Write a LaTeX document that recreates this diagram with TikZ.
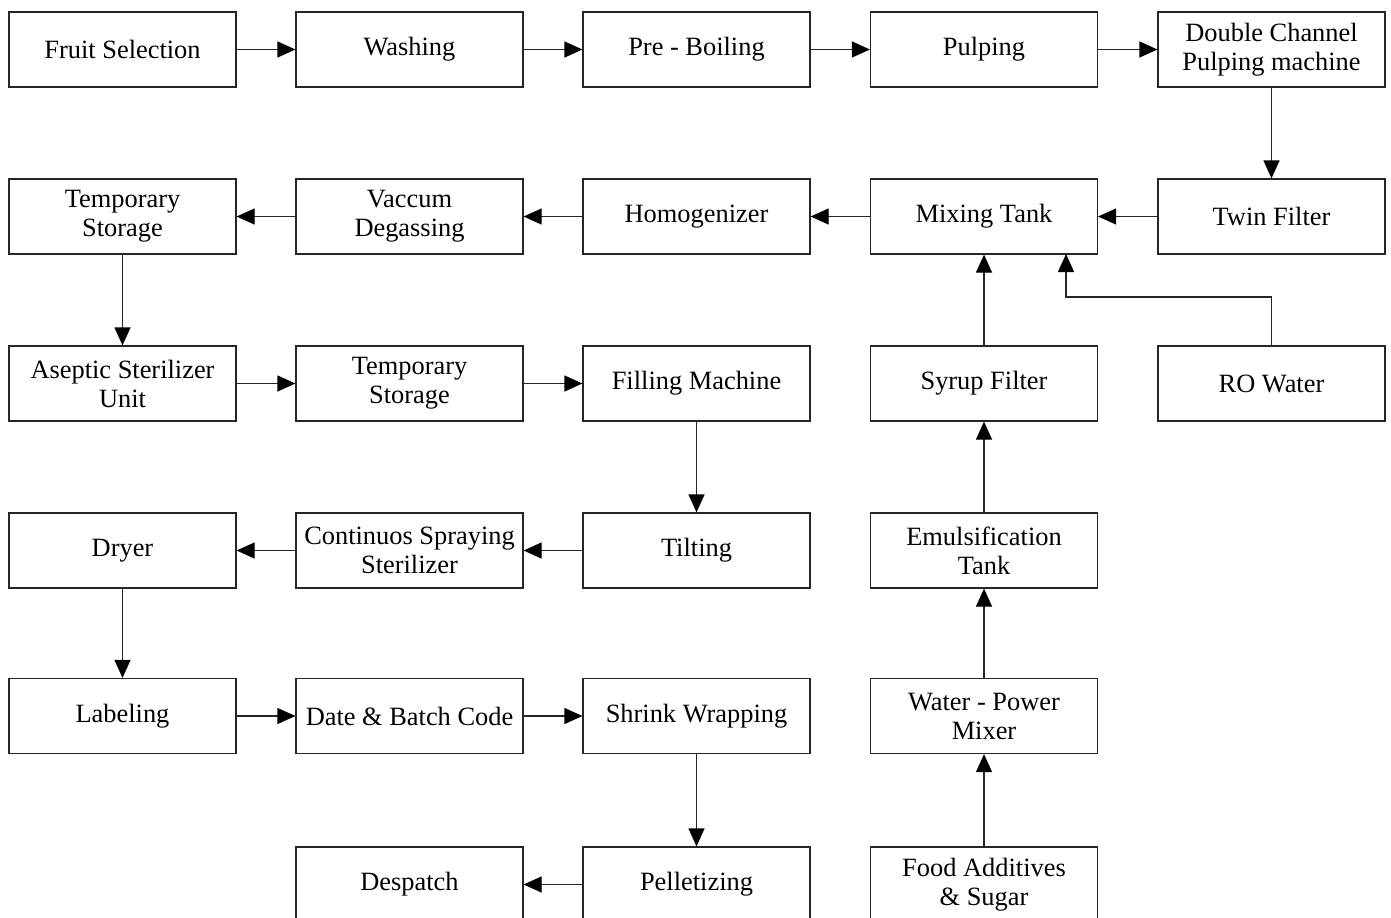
\documentclass[tikz,border=0pt]{standalone}
\usepackage{fontspec}
\setmainfont{Liberation Serif}
\usetikzlibrary{arrows.meta}
\begin{document}
\begin{tikzpicture}[x=0.75pt,y=-0.75pt,
  box/.style={draw=black!85,line width=0.9pt,minimum width=170.25pt,minimum height=56.25pt,inner sep=0pt,align=center,font=\fontsize{19.8}{21.75}\selectfont},
  flow/.style={draw=black!85,line width=0.9pt,-{Triangle[length=13.5pt,width=12pt,fill=black,color=black]}}]
\useasboundingbox (0,0) rectangle (1391,917);
\clip (0,0) rectangle (1391,917);
\node[box] (fs) at (122.5,49.5) {Fruit Selection};
\node[box] (wa) at (409.5,49.5) {Washing};
\node[box] (pb) at (696.5,49.5) {Pre - Boiling};
\node[box] (pu) at (984,49.5) {Pulping};
\node[box] (dc) at (1271.5,49.5) {Double Channel\\Pulping machine};
\node[box] (ts1) at (122.5,216.5) {Temporary\\Storage};
\node[box] (vd) at (409.5,216.5) {Vaccum\\Degassing};
\node[box] (ho) at (696.5,216.5) {Homogenizer};
\node[box] (mt) at (984,216.5) {Mixing Tank};
\node[box] (tf) at (1271.5,216.5) {Twin Filter};
\node[box] (as) at (122.5,383.5) {Aseptic Sterilizer\\Unit};
\node[box] (ts2) at (409.5,383.5) {Temporary\\Storage};
\node[box] (fm) at (696.5,383.5) {Filling Machine};
\node[box] (sf) at (984,383.5) {Syrup Filter};
\node[box] (ro) at (1271.5,383.5) {RO Water};
\node[box] (dr) at (122.5,550.5) {Dryer};
\node[box] (cs) at (409.5,550.5) {Continuos Spraying\\Sterilizer};
\node[box] (ti) at (696.5,550.5) {Tilting};
\node[box] (et) at (984,550.5) {Emulsification\\Tank};
\node[box] (la) at (122.5,716) {Labeling};
\node[box] (db) at (409.5,716) {Date \& Batch Code};
\node[box] (sw) at (696.5,716) {Shrink Wrapping};
\node[box] (wp) at (984,716) {Water - Power\\Mixer};
\node[box] (de) at (409.5,884.5) {Despatch};
\node[box] (pe) at (696.5,884.5) {Pelletizing};
\node[box] (fa) at (984,884.5) {Food Additives\\\& Sugar};
\coordinate (ro1) at (1271.5,297);
\coordinate (ro2) at (1066,297);
\coordinate (ro3) at (1066,254);
\draw[flow] (fs) -- (wa);
\draw[flow] (wa) -- (pb);
\draw[flow] (pb) -- (pu);
\draw[flow] (pu) -- (dc);
\draw[flow] (dc) -- (tf);
\draw[flow] (tf) -- (mt);
\draw[flow] (mt) -- (ho);
\draw[flow] (ho) -- (vd);
\draw[flow] (vd) -- (ts1);
\draw[flow] (ts1) -- (as);
\draw[flow] (as) -- (ts2);
\draw[flow] (ts2) -- (fm);
\draw[flow] (fm) -- (ti);
\draw[flow] (ti) -- (cs);
\draw[flow] (cs) -- (dr);
\draw[flow] (dr) -- (la);
\draw[flow] (la) -- (db);
\draw[flow] (db) -- (sw);
\draw[flow] (sw) -- (pe);
\draw[flow] (pe) -- (de);
\draw[flow] (fa) -- (wp);
\draw[flow] (wp) -- (et);
\draw[flow] (et) -- (sf);
\draw[flow] (sf) -- (mt);
\draw[flow] (ro.north) -- (ro1) -- (ro2) -- (ro3);
\end{tikzpicture}
\end{document}
